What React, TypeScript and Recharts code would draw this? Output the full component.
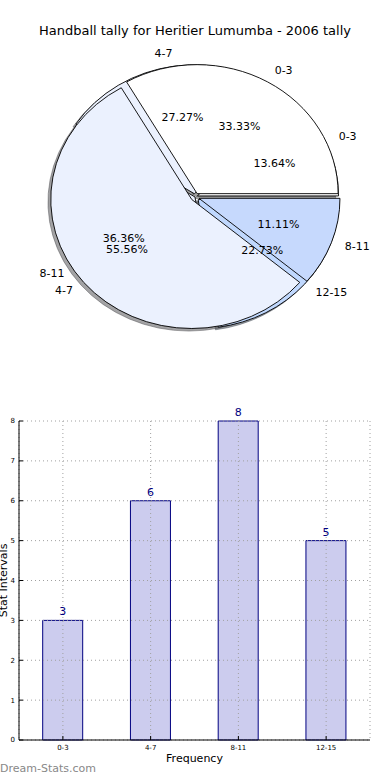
import React from 'react';
import { PieChart, Pie, BarChart, Bar, XAxis, YAxis, CartesianGrid } from 'recharts';

// ---------- data ----------
const TITLE = 'Handball tally for Heritier Lumumba - 2006 tally';
const CATEGORIES = ['0-3', '4-7', '8-11', '12-15'];
const TALLY = [3, 6, 8, 5];
const INNER_CATEGORIES = ['0-3', '4-7', '8-11'];
const INNER_VALUES = [3, 5, 1];
const Y_TICKS = [0, 1, 2, 3, 4, 5, 6, 7, 8];

// ---------- styles ----------
const OUTER_COLORS = ['#ffffff', '#ebf1fe', '#ebf1fe', '#c0d8fe'];
const INNER_COLORS = ['#ffffff', '#ebf1fe', '#c6d9fd'];
const OUTER_EXPLODE = [0.02, 0.025, 0, 0.03];
const INNER_EXPLODE = [0.03, 0.03, 0.03];
const RX_RATIO = 141 / 129;
const RAD = Math.PI / 180;
const FONT = "'DejaVu Sans', 'Liberation Sans', sans-serif";

const outerData = CATEGORIES.map((name, i) => ({ name, value: TALLY[i] }));
const innerData = INNER_CATEGORIES.map((name, i) => ({ name, value: INNER_VALUES[i] }));
const barData = CATEGORIES.map((name, i) => ({ name, value: TALLY[i] }));

function wedgePath(ox: number, oy: number, rx: number, ry: number, a1: number, a2: number) {
  const x1 = ox + rx * Math.cos(a1 * RAD);
  const y1 = oy - ry * Math.sin(a1 * RAD);
  const x2 = ox + rx * Math.cos(a2 * RAD);
  const y2 = oy - ry * Math.sin(a2 * RAD);
  const large = Math.abs(a2 - a1) > 180 ? 1 : 0;
  return `M${ox},${oy} L${x1},${y1} A${rx},${ry} 0 ${large} 0 ${x2},${y2} Z`;
}

type Mode = 'shadow' | 'wedge' | 'none';

const makeShape = (names: string[], colors: string[], explode: number[], mode: Mode) => (p: any) => {
  if (mode === 'none') return <g />;
  const name = p.name ?? p.payload?.name;
  const i = names.indexOf(name);
  const { cx, cy, outerRadius, startAngle, endAngle, midAngle } = p;
  const ry = outerRadius;
  const rx = outerRadius * RX_RATIO;
  const e = explode[i] ?? 0;
  const c = Math.cos(midAngle * RAD);
  const s = Math.sin(midAngle * RAD);
  const ox = cx + e * rx * c;
  const oy = cy - e * ry * s;
  if (mode === 'shadow') {
    const col = colors[i] || '#ffffff';
    const r = Math.round(parseInt(col.slice(1, 3), 16) * 0.3);
    const g = Math.round(parseInt(col.slice(3, 5), 16) * 0.3);
    const b = Math.round(parseInt(col.slice(5, 7), 16) * 0.3);
    const sc = `rgb(${r},${g},${b})`;
    return (
      <path
        d={wedgePath(ox - 0.02 * rx, oy + 0.02 * ry, rx, ry, startAngle, endAngle)}
        fill={sc}
        fillOpacity={0.5}
        stroke={sc}
        strokeOpacity={0.5}
        strokeWidth={0.9}
      />
    );
  }
  return (
    <path d={wedgePath(ox, oy, rx, ry, startAngle, endAngle)} fill={colors[i]} stroke="#000" strokeWidth={0.9} />
  );
};

const makeLabel = (names: string[], explode: number[]) => (p: any) => {
  const { cx, cy, midAngle, outerRadius, percent, name } = p;
  const i = names.indexOf(name);
  const ry = outerRadius;
  const rx = outerRadius * RX_RATIO;
  const e = explode[i] ?? 0;
  const c = Math.cos(midAngle * RAD);
  const s = Math.sin(midAngle * RAD);
  const ox = cx + e * rx * c;
  const oy = cy - e * ry * s;
  const lx = ox + 1.1 * rx * c;
  const ly = oy - 1.1 * ry * s;
  const px = ox + 0.6 * rx * c;
  const py = oy - 0.6 * ry * s;
  return (
    <g>
      <text x={lx} y={ly} textAnchor={lx > cx ? 'start' : 'end'} dominantBaseline="central" fontSize={11} fill="#000">
        {name}
      </text>
      <text x={px} y={py} textAnchor="middle" dominantBaseline="central" fontSize={11} fill="#000">
        {(percent * 100).toFixed(2)}%
      </text>
    </g>
  );
};

const YLabel = (props: any) => {
  const vb = props.viewBox || { x: 0, y: 0, width: 0, height: 0 };
  const x = vb.x + 3;
  const y = vb.y + vb.height / 2;
  return (
    <text x={x} y={y} transform={`rotate(-90, ${x}, ${y})`} textAnchor="middle" dominantBaseline="central" fontSize={11} fill="#000">
      Stat Intervals
    </text>
  );
};

const pieCommon = {
  dataKey: 'value',
  nameKey: 'name',
  cx: 195,
  cy: 197,
  outerRadius: 129,
  startAngle: 0,
  endAngle: 360,
  isAnimationActive: false,
  labelLine: false,
};

export default function App() {
  return (
    <div style={{ position: 'absolute', left: 0, top: 0, width: 390, height: 780, background: '#fff', fontFamily: FONT }}>
      <div style={{ position: 'absolute', left: 0, top: 0 }}>
        <PieChart width={390} height={360} margin={{ top: 0, right: 0, bottom: 0, left: 0 }}>
          <Pie {...pieCommon} data={outerData} shape={makeShape(CATEGORIES, OUTER_COLORS, OUTER_EXPLODE, 'shadow')} />
          <Pie {...pieCommon} data={innerData} shape={makeShape(INNER_CATEGORIES, INNER_COLORS, INNER_EXPLODE, 'shadow')} />
          <Pie {...pieCommon} data={outerData} shape={makeShape(CATEGORIES, OUTER_COLORS, OUTER_EXPLODE, 'wedge')} />
          <Pie
            {...pieCommon}
            data={innerData}
            label={makeLabel(INNER_CATEGORIES, INNER_EXPLODE)}
            shape={makeShape(INNER_CATEGORIES, INNER_COLORS, INNER_EXPLODE, 'wedge')}
          />
          <Pie
            {...pieCommon}
            data={outerData}
            fill="none"
            stroke="none"
            label={makeLabel(CATEGORIES, OUTER_EXPLODE)}
            shape={makeShape(CATEGORIES, OUTER_COLORS, OUTER_EXPLODE, 'none')}
          />
        </PieChart>
      </div>
      <div
        style={{
          position: 'absolute',
          left: 0,
          top: 23,
          width: 390,
          textAlign: 'center',
          fontSize: 13,
          lineHeight: '15px',
          color: '#000',
        }}
      >
        {TITLE}
      </div>
      <div style={{ position: 'absolute', left: 0, top: 400 }}>
        <BarChart
          width={390}
          height={380}
          data={barData}
          margin={{ top: 21, right: 20, bottom: 0, left: 0 }}
          barCategoryGap="27%"
        >
          <Bar
            dataKey="value"
            fill="#ccccee"
            stroke="#000080"
            strokeWidth={1}
            isAnimationActive={false}
            label={{ position: 'top', fill: '#000080', fontSize: 11 }}
          />
          <CartesianGrid stroke="#a0a0a0" strokeDasharray="1 3" zIndex={500} />
          <XAxis
            dataKey="name"
            interval={0}
            height={40}
            tickLine={{ stroke: '#000' }}
            tickSize={-4}
            tickMargin={9}
            tick={{ fontSize: 7, fill: '#000' }}
            axisLine={{ stroke: '#000' }}
            label={{ value: 'Frequency', position: 'insideTop', offset: 14, fontSize: 11, fill: '#000' }}
          />
          <XAxis
            xAxisId="top"
            orientation="top"
            dataKey="name"
            interval={0}
            height={0}
            tick={false}
            tickLine={{ stroke: '#000' }}
            tickSize={-4}
            axisLine={{ stroke: '#000' }}
          />
          <YAxis
            domain={[0, 8]}
            ticks={Y_TICKS}
            width={19}
            tickLine={{ stroke: '#000' }}
            tickSize={-4}
            tickMargin={8}
            interval={0}
            tick={{ fontSize: 7, fill: '#000' }}
            axisLine={{ stroke: '#000' }}
            label={<YLabel />}
          />
          <YAxis
            yAxisId="right"
            orientation="right"
            domain={[0, 8]}
            ticks={Y_TICKS}
            interval={0}
            width={0}
            tick={false}
            tickLine={{ stroke: '#000' }}
            tickSize={-4}
            axisLine={{ stroke: '#000' }}
          />
        </BarChart>
      </div>
      <div style={{ position: 'absolute', left: 0, top: 762, fontSize: 11, color: '#888', lineHeight: '14px' }}>
        Dream-Stats.com
      </div>
    </div>
  );
}
